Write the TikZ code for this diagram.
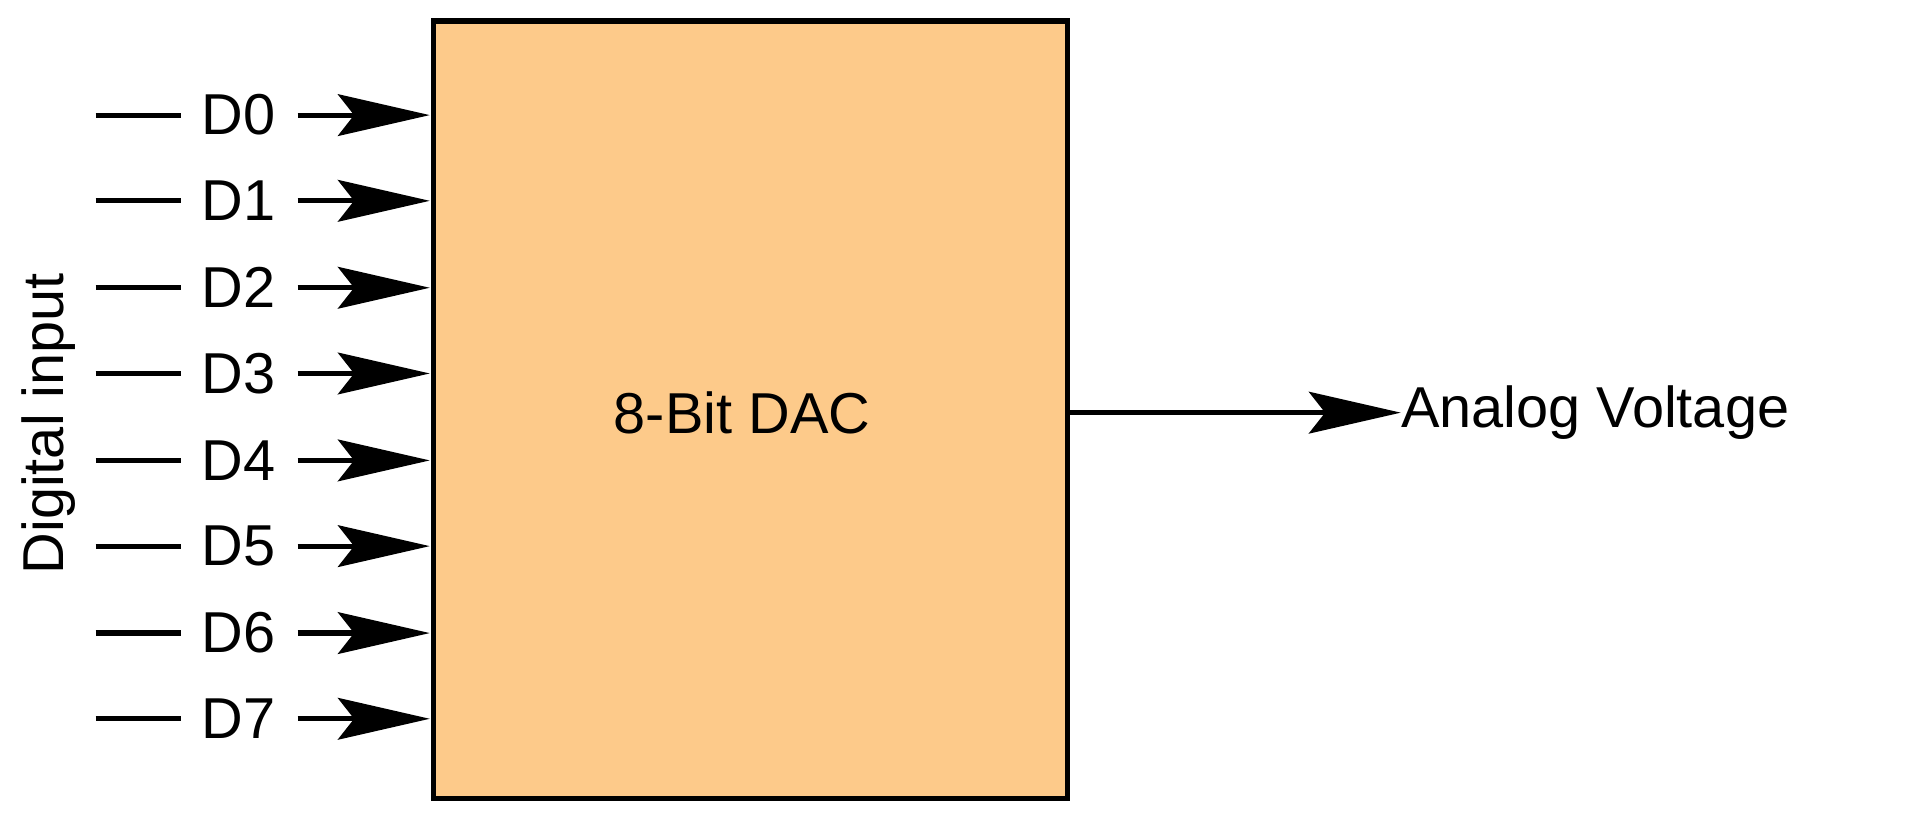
\documentclass[tikz,border=0pt]{standalone}
\usepackage{fontspec}
\setmainfont{Liberation Sans}
\usetikzlibrary{arrows.meta}
\begin{document}
\begin{tikzpicture}[x=0.025cm,y=-0.025cm,
  ln/.style={line width=3pt},
  arr/.style={ln,-{Stealth[length=1.875cm,width=0.85cm,inset=0.33cm]}},
  lbl/.style={font=\fontsize{33.5}{38}\selectfont,inner sep=0pt}]
\useasboundingbox (0,0) rectangle (1568,666);
\node[draw,line width=3pt,fill={rgb,255:red,253;green,202;blue,138},minimum width=518*0.025cm,minimum height=635*0.025cm,anchor=north west] (dac) at (352,15) {};
\node[lbl] at (606,337) {8-Bit DAC};
\foreach \i/\y in {0/94,1/164,2/235,3/305,4/376,5/446,6/517,7/587}{
  \coordinate (a\i) at (78,\y);
  \coordinate (b\i) at (148,\y);
  \node[lbl] (d\i) at (195,\y) {D\i};
  \coordinate (s\i) at (243,\y);
  \coordinate (e\i) at (351,\y);
  \draw[ln] (a\i) -- (b\i);
  \draw[arr] (s\i) -- (e\i);
}
\coordinate (o) at (871,337);
\node[lbl,anchor=west] (av) at (1144,337) {Analog Voltage};
\draw[arr] (o) -- (av.west);
\node[lbl,rotate=90] (di) at (40,346) {Digital input};
\end{tikzpicture}
\end{document}
